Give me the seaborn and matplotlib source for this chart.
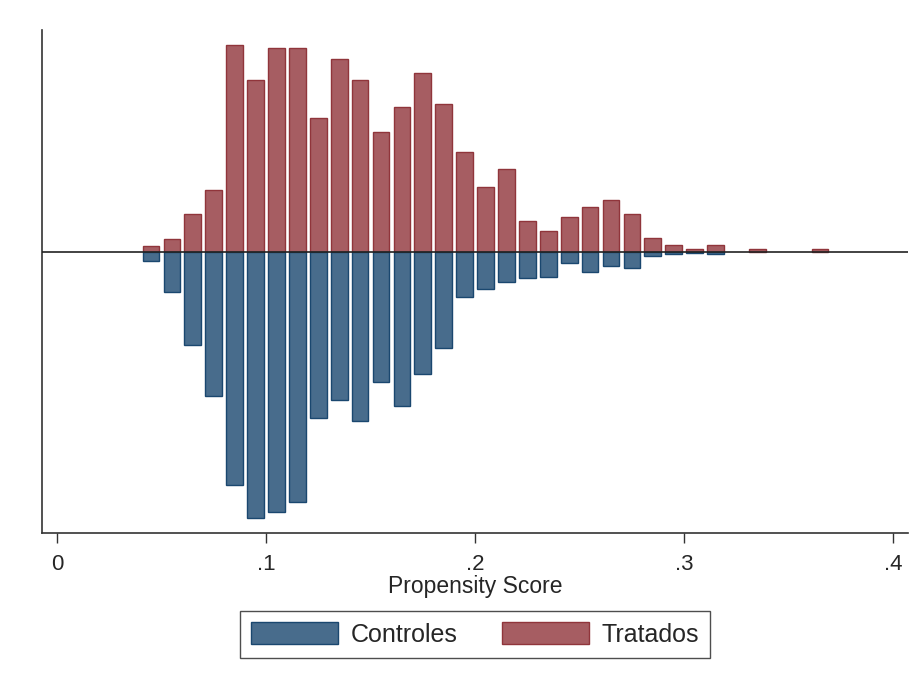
import numpy as np
import pandas as pd
import matplotlib
matplotlib.use("Agg")
import matplotlib.pyplot as plt
from matplotlib.patches import Patch
import seaborn as sns

# bin centres (propensity score)
bins = [0.045, 0.055, 0.065, 0.075, 0.085, 0.095, 0.105, 0.115, 0.125, 0.135,
        0.145, 0.155, 0.165, 0.175, 0.185, 0.195, 0.205, 0.215, 0.225, 0.235,
        0.245, 0.255, 0.265, 0.275, 0.285, 0.295, 0.305, 0.315, 0.325, 0.335,
        0.345, 0.355, 0.365]
# densities
tratados = [0.26, 0.54, 1.53, 2.47, 8.25, 6.88, 8.13, 8.13, 5.35, 7.69,
            6.88, 4.80, 5.78, 7.14, 5.92, 3.98, 2.62, 3.31, 1.26, 0.84,
            1.41, 1.80, 2.08, 1.54, 0.56, 0.28, 0.15, 0.29, 0.0, 0.15,
            0.0, 0.0, 0.15]
controles = [0.36, 1.58, 3.68, 5.72, 9.25, 10.59, 10.35, 9.96, 6.60, 5.88,
             6.73, 5.15, 6.12, 4.86, 3.82, 1.76, 1.45, 1.17, 1.00, 0.97,
             0.44, 0.78, 0.53, 0.64, 0.15, 0.05, 0.04, 0.08, 0.0, 0.0,
             0.0, 0.0, 0.0]
xticks = [0, 0.1, 0.2, 0.3, 0.4]
xticklabels = ["0", ".1", ".2", ".3", ".4"]

sns.set_theme(style="white")
plt.rcParams['font.family'] = ['Liberation Sans', 'DejaVu Sans']

blue_fill = "#486c8c"
blue_edge = "#1a476f"
red_fill = "#a65d62"
red_edge = "#90353b"

df_t = pd.DataFrame({"x": bins, "y": tratados})
df_c = pd.DataFrame({"x": bins, "y": [-v for v in controles]})
# do not draw empty bins
df_t = df_t[df_t["y"] != 0]
df_c = df_c[df_c["y"] != 0]

fig = plt.figure(figsize=(9.21, 6.86), dpi=100)
ax = fig.add_axes([41.7 / 921, 1 - 533.3 / 686, (908.3 - 41.7) / 921, (533.3 - 30) / 686])

sns.barplot(data=df_t, x="x", y="y", native_scale=True, width=0.8,
            color=red_fill, edgecolor=red_edge, linewidth=1.0, saturation=1,
            ax=ax, errorbar=None)
sns.barplot(data=df_c, x="x", y="y", native_scale=True, width=0.8,
            color=blue_fill, edgecolor=blue_edge, linewidth=1.0, saturation=1,
            ax=ax, errorbar=None)

ax.axhline(0, color="#222222", linewidth=1.2, zorder=5)

ax.set_xlim(-0.0073, 0.4072)
ax.set_ylim(-11.19, 8.86)

for s in ["top", "right"]:
    ax.spines[s].set_visible(False)
for s in ["left", "bottom"]:
    ax.spines[s].set_color("#333333")
    ax.spines[s].set_linewidth(1.2)

ax.set_xticks(xticks)
ax.set_xticklabels(xticklabels, fontsize=16)
ax.tick_params(axis="x", direction="out", length=7, width=1.0, color="#333333",
               pad=8, bottom=True)
ax.set_yticks([])
ax.set_ylabel("")
ax.set_xlabel("Propensity Score", fontsize=16.5, labelpad=0)

handles = [Patch(facecolor=blue_fill, edgecolor=blue_edge, linewidth=1.0, label="Controles"),
           Patch(facecolor=red_fill, edgecolor=red_edge, linewidth=1.0, label="Tratados")]
leg = fig.legend(handles=handles, loc="upper center", bbox_to_anchor=(475 / 921, 1 - 611 / 686),
                 ncol=2, fontsize=18, frameon=True, fancybox=False, borderaxespad=0,
                 handlelength=3.5, handleheight=0.95, columnspacing=1.75,
                 handletextpad=0.5, borderpad=0.45)
leg.get_frame().set_edgecolor("#222222")
leg.get_frame().set_linewidth(1.0)

fig.savefig("out.png", dpi=100, facecolor="white")
